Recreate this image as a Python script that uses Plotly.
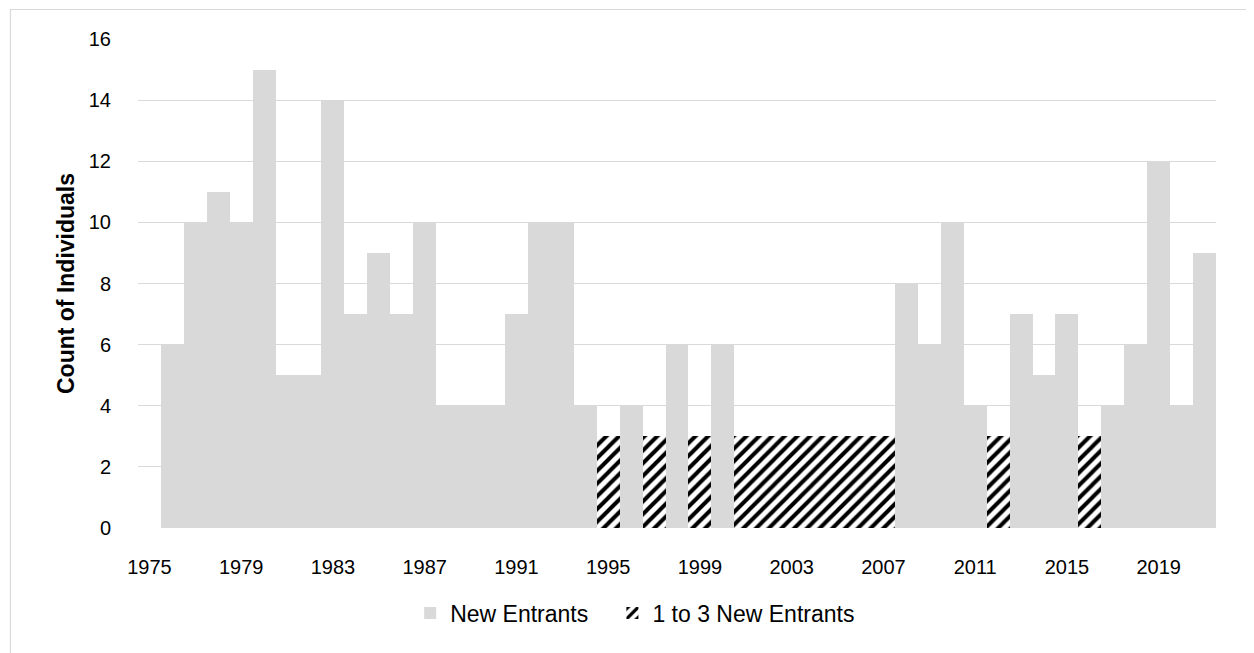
import plotly.graph_objects as go

years = list(range(1975, 2022))
new_entrants = [None, 6, 10, 11, 10, 15, 5, 5, 14, 7, 9, 7, 10, 4, 4, 4, 7, 10, 10, 4,
                None, 4, None, 6, None, 6, None, None, None, None, None, None, None,
                8, 6, 10, 4, None, 7, 5, 7, None, 4, 6, 12, 4, 9]
one_to_three = [None, None, None, None, None, None, None, None, None, None, None, None, None, None, None, None, None, None, None, None,
                3, None, 3, None, 3, None, 3, 3, 3, 3, 3, 3, 3,
                None, None, None, None, 3, None, None, None, 3, None, None, None, None, None]
tick_years = list(range(1975, 2022, 4))

FONT = "Liberation Sans, Arial, sans-serif"

fig = go.Figure()
fig.add_trace(go.Bar(x=years, y=new_entrants, name="New Entrants&nbsp;&nbsp;&nbsp;",
                     marker=dict(color="#D9D9D9", line=dict(width=0))))
fig.add_trace(go.Bar(x=years, y=one_to_three, name="1 to 3 New Entrants",
                     marker=dict(color="white", line=dict(width=0),
                                 pattern=dict(shape="/", fgcolor="black", bgcolor="white",
                                              size=9, solidity=0.45, fillmode="replace"))))

fig.update_layout(
    width=1246, height=645,
    margin=dict(l=130, r=38, t=31, b=125),
    paper_bgcolor="white", plot_bgcolor="white",
    barmode="stack", bargap=0,
    font=dict(family=FONT, size=20, color="black"),
    legend=dict(orientation="h", x=0.4612, y=-0.174, xanchor="center", yanchor="middle",
                font=dict(family=FONT, size=23), itemwidth=30,
                traceorder="normal"),
    showlegend=True,
)
fig.update_xaxes(range=[1974.5, 2021.5], tickvals=tick_years,
                 ticktext=[str(y) for y in tick_years], showgrid=False,
                 showline=False, zeroline=False, ticks="", ticklabelstandoff=25,
                 tickfont=dict(family=FONT, size=20))
fig.update_yaxes(range=[0, 16], dtick=2, showgrid=True, gridcolor="#D9D9D9", gridwidth=1,
                 zeroline=False, showline=False, ticks="", ticklabelstandoff=26,
                 tickfont=dict(family=FONT, size=20),
                 title=dict(text="<b>Count of Individuals</b>", font=dict(family=FONT, size=23), standoff=7))
fig.add_shape(type="rect", xref="paper", yref="paper",
              x0=-0.1183, x1=1.2, y0=-0.5, y1=1.0603,
              line=dict(color="#D9D9D9", width=1.2), fillcolor="rgba(0,0,0,0)", layer="below")

fig.write_html("out.html")
